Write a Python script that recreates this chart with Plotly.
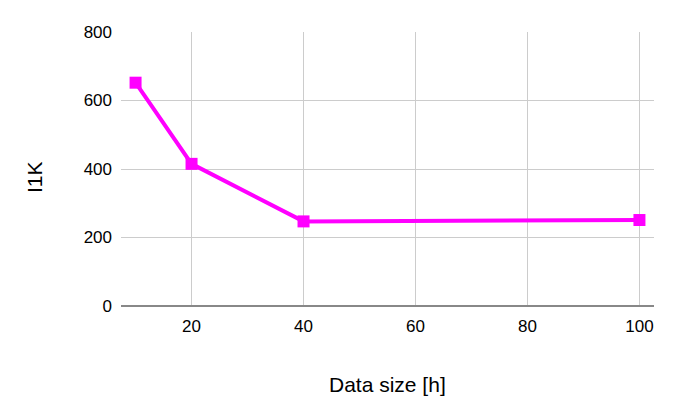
import plotly.graph_objects as go

data_size = [10, 20, 40, 100]
i1k = [652, 415, 247, 251]
x_ticks = [20, 40, 60, 80, 100]
y_ticks = [0, 200, 400, 600, 800]

fig = go.Figure()
fig.add_trace(go.Scatter(
    x=data_size, y=i1k, mode="lines+markers",
    line=dict(color="#ff00ff", width=4),
    marker=dict(symbol="square", size=12, color="#ff00ff"),
    showlegend=False,
))

fig.update_layout(
    width=675, height=418,
    margin=dict(l=113, r=29, t=24, b=120),
    paper_bgcolor="white", plot_bgcolor="white",
    font=dict(family="Liberation Sans, Arial, sans-serif", size=17, color="#000000"),
    annotations=[
        dict(text="Data size [h]", xref="paper", yref="paper", x=0.5, y=0,
             xanchor="center", yanchor="middle", yshift=-78, showarrow=False,
             font=dict(size=21)),
        dict(text="I1K", xref="paper", yref="paper", x=0, y=0.5,
             xanchor="center", yanchor="middle", xshift=-87, yshift=-8,
             textangle=-90, showarrow=False, font=dict(size=21)),
    ],
)
fig.update_xaxes(
    range=[7.4, 102.6], tickvals=x_ticks, showgrid=True, gridcolor="#cccccc", gridwidth=1,
    showline=False, zeroline=False, ticks="", ticklen=0, ticklabelstandoff=8,
)
fig.update_yaxes(
    range=[0, 800], tickvals=y_ticks, showgrid=True, gridcolor="#cccccc", gridwidth=1,
    zeroline=True, zerolinecolor="#888888", zerolinewidth=2,
    showline=False, ticks="", ticklen=0, ticklabelstandoff=8,
)
fig.write_html("out.html")
